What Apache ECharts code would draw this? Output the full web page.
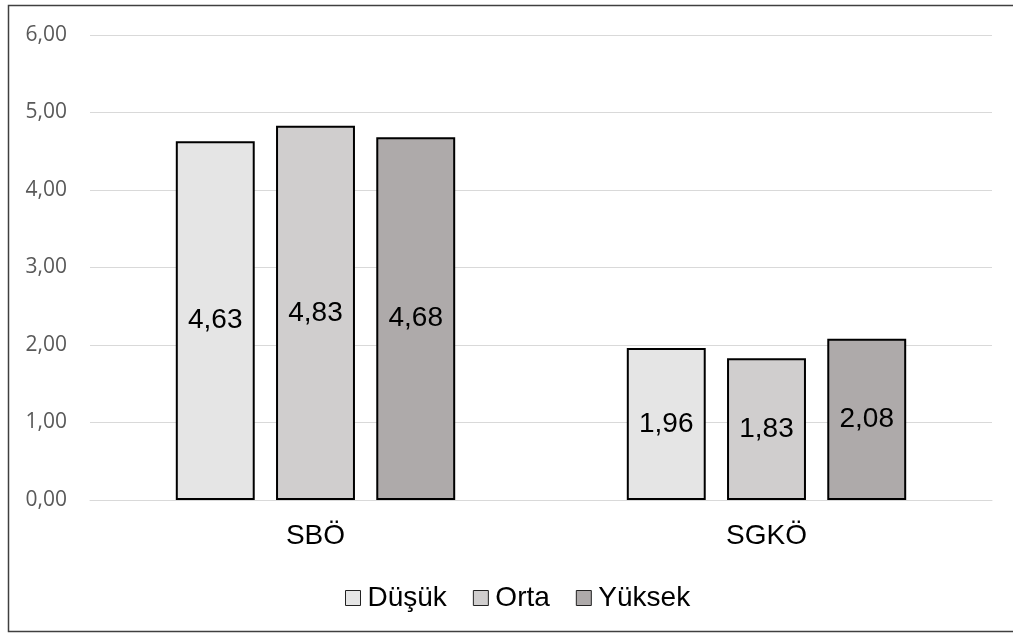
<!DOCTYPE html>
<html><head><meta charset="utf-8">
<script src="https://cdn.jsdelivr.net/npm/echarts@6/dist/echarts.min.js"></script>
<style>html,body{margin:0;padding:0;background:#fff}#c{width:1013px;height:633px}</style>
</head><body><div id="c"></div>
<script>
const categories = ['SBÖ', 'SGKÖ'];
const seriesNames = ['Düşük', 'Orta', 'Yüksek'];
const dusuk = [4.63, 1.96];
const orta = [4.83, 1.83];
const yuksek = [4.68, 2.08];
const yTicks = [0, 1, 2, 3, 4, 5, 6];

const colors = ['#E5E5E5', '#D0CECE', '#AEAAAA'];
const values = [dusuk, orta, yuksek];
const fmt = v => v.toFixed(2).replace('.', ',');

const chart = echarts.init(document.getElementById('c'));
chart.setOption({
  animation: false,
  graphic: [{type: 'rect', shape: {x: 8.5, y: 5.5, width: 1010, height: 626}, style: {fill: 'none', stroke: '#404040', lineWidth: 1.5}, z: 100}],
  grid: {left: 90, right: 21, top: 35, bottom: 133},
  legend: {
    top: 579, left: 340, itemWidth: 15, itemHeight: 15, itemGap: 26,
    icon: 'rect',
    textStyle: {fontFamily: 'Liberation Sans, Arial', fontSize: 28, color: '#000', padding: [0, 0, 0, 2]},
    itemStyle: {borderColor: '#222', borderWidth: 1}
  },
  xAxis: {
    type: 'category', data: categories,
    axisLine: {show: true, lineStyle: {color: '#D9D9D9', width: 1}},
    axisTick: {show: false},
    axisLabel: {fontFamily: 'Liberation Sans, Arial', fontSize: 28, color: '#000', margin: 22}
  },
  yAxis: {
    type: 'value', min: yTicks[0], max: yTicks[yTicks.length - 1], interval: 1,
    axisLabel: {formatter: v => fmt(v), fontFamily: 'Open Sans, Noto Sans', fontSize: 21, color: '#595959', margin: 23},
    splitLine: {lineStyle: {color: '#D9D9D9', width: 1}},
    axisLine: {show: false}, axisTick: {show: false}
  },
  series: seriesNames.map((n, i) => ({
    name: n, type: 'bar', data: values[i],
    barWidth: '17.5%', barGap: '27%',
    itemStyle: {color: colors[i], borderColor: '#000', borderWidth: 2},
    label: {show: true, position: 'inside', formatter: p => fmt(p.value), fontFamily: 'Liberation Sans, Arial', fontSize: 28, color: '#000'}
  }))
});
</script></body></html>
